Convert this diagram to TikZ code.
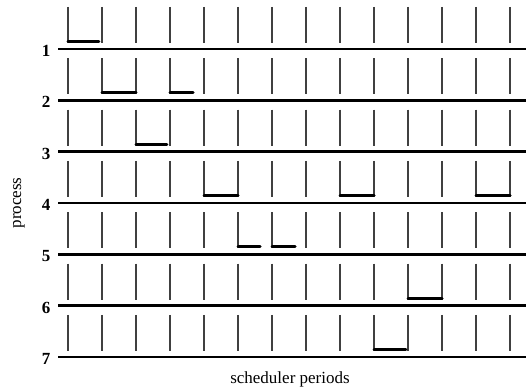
\documentclass[tikz,border=0pt]{standalone}
\usepackage{fontspec}
\setmainfont{Liberation Serif}
\begin{document}
\begin{tikzpicture}[x=1pt, y=-1pt]

% Styles
\tikzset{
  procline/.style={line width=2.6pt},
  tickline/.style={line width=1.1pt, black!75},
  run/.style={line width=3pt, line cap=round},
  plabel/.style={font=\fontsize{17}{20}\selectfont\bfseries, anchor=east, inner sep=0pt},
  axislabel/.style={font=\fontsize{17}{20}\selectfont, inner sep=0pt}
}

\useasboundingbox (0,0) rectangle (526,390);

% One row per process: base line, label and period ticks
\foreach \k in {1,...,7} {
  \pgfmathsetmacro{\ly}{49+51.3*(\k-1)}
  \draw[procline] (58,\ly) -- (526,\ly);
  \node[plabel] (p\k) at (50.5,\ly+2) {\k};
  \foreach \t in {0,...,13}
    \draw[tickline] (68+34*\t,\ly-42) -- (68+34*\t,\ly-6);
}

% Running periods (row / start / end, in periods)
\foreach \r/\a/\b in {1/0/0.91, 2/1/2, 2/3/3.68, 3/2/2.91, 4/4/5, 4/8/9,
                      4/12/13, 5/5/5.65, 5/6/6.68, 6/10/11, 7/9/9.94} {
  \pgfmathsetmacro{\ry}{49+51.3*(\r-1)-7.5}
  \draw[run] (68+34*\a,\ry) -- (68+34*\b,\ry);
}

% Axis labels
\node[axislabel, rotate=90] (ylab) at (19,203) {process};
\node[axislabel] (xlab) at (290,379) {scheduler periods};

\end{tikzpicture}
\end{document}
